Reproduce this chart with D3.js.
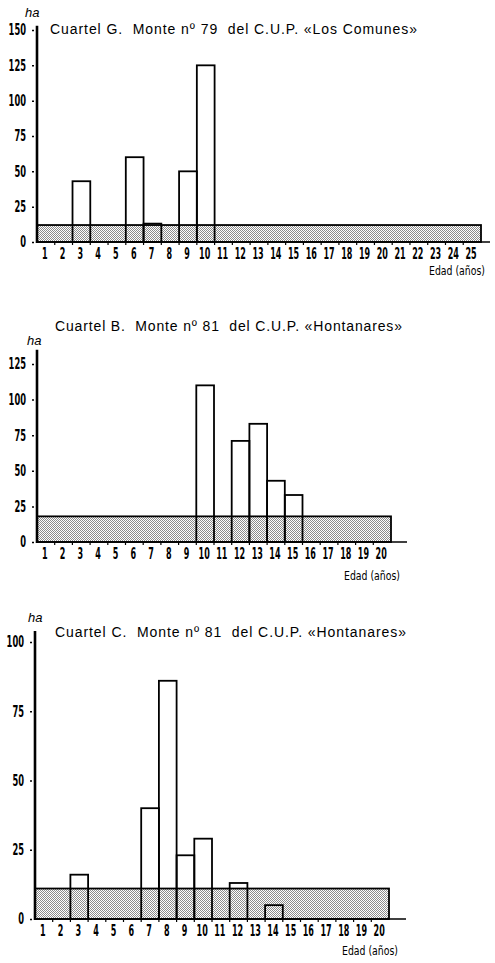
<!DOCTYPE html>
<html>
<head>
<meta charset="utf-8">
<script src="https://cdn.jsdelivr.net/npm/d3@7"></script>
<style>
  body { margin: 0; background: #fff; }
  svg { display: block; }
</style>
</head>
<body>
<div id="chart"></div>
<script>
// Datos: superficie (ha) por clase de edad en cada cuartel

// Cuartel G
var edadesG = [1,2,3,4,5,6,7,8,9,10,11,12,13,14,15,16,17,18,19,20,21,22,23,24,25];
var barrasEdadG = [3, 6, 7, 9, 10];
var barrasHaG = [43, 60, 13, 50, 125];
var normalG = 12;
var ticksG = [0, 25, 50, 75, 100, 125, 150];
var tituloG = "Cuartel G.  Monte nº 79  del C.U.P. «Los Comunes»";

// Cuartel B
var edadesB = [1,2,3,4,5,6,7,8,9,10,11,12,13,14,15,16,17,18,19,20];
var barrasEdadB = [10, 12, 13, 14, 15];
var barrasHaB = [110, 71, 83, 43, 33];
var normalB = 18;
var ticksB = [0, 25, 50, 75, 100, 125];
var tituloB = "Cuartel B.  Monte nº 81  del C.U.P. «Hontanares»";

// Cuartel C
var edadesC = [1,2,3,4,5,6,7,8,9,10,11,12,13,14,15,16,17,18,19,20];
var barrasEdadC = [3, 7, 8, 9, 10, 12, 14];
var barrasHaC = [16, 40, 86, 23, 29, 13, 5];
var normalC = 11;
var ticksC = [0, 25, 50, 75, 100];
var tituloC = "Cuartel C.  Monte nº 81  del C.U.P. «Hontanares»";

var W = 495, H = 963;

var svg = d3.select("#chart")
  .append("svg")
  .attr("width", W)
  .attr("height", H);

// Patron punteado para la superficie normal
var defs = svg.append("defs");
var pat = defs.append("pattern")
  .attr("id", "punteado")
  .attr("width", 2)
  .attr("height", 2)
  .attr("patternUnits", "userSpaceOnUse");
pat.append("rect").attr("width", 2).attr("height", 2).attr("fill", "#fff");
pat.append("rect").attr("x", 0).attr("y", 0).attr("width", 1).attr("height", 1).attr("fill", "#8c8c8c");
pat.append("rect").attr("x", 1).attr("y", 1).attr("width", 1).attr("height", 1).attr("fill", "#8c8c8c");

var fuenteNum = "'DejaVu Sans Condensed', 'Liberation Sans Narrow', 'Liberation Sans', sans-serif";
var fuenteTit = "'Liberation Sans', Arial, sans-serif";

// numeros estrechos (tipo Helvetica condensada)
function estrecho(sel, ancho) {
  sel.attr("font-family", fuenteNum)
    .attr("font-weight", "bold")
    .attr("font-size", 15)
    .attr("fill", "#000")
    .attr("textLength", function() { return this.textContent.length * ancho; })
    .attr("lengthAdjust", "spacingAndGlyphs");
}

function panel(cfg) {
  var g = svg.append("g");

  // Escalas
  var x = d3.scaleBand()
    .domain(cfg.edades)
    .range([cfg.left, cfg.right])
    .paddingInner(0)
    .paddingOuter(0);

  var y = d3.scaleLinear()
    .domain([0, cfg.ymax])
    .range([cfg.y0, cfg.ytop]);

  // Superficie normal (punteado)
  var primera = cfg.edades[0], ultima = cfg.edades[cfg.edades.length - 1];
  g.append("rect")
    .attr("x", x(primera))
    .attr("y", y(cfg.normal))
    .attr("width", x(ultima) + x.bandwidth() - x(primera))
    .attr("height", y(0) - y(cfg.normal))
    .attr("fill", "url(#punteado)")
    .attr("stroke", "#000")
    .attr("stroke-width", 1.8);

  // Barras reales
  var barras = cfg.barrasEdad.map(function(e, i) {
    return {edad: e, ha: cfg.barrasHa[i]};
  });
  g.selectAll(".barra")
    .data(barras)
    .enter()
    .append("rect")
    .attr("class", "barra")
    .attr("x", function(d) { return x(d.edad); })
    .attr("y", function(d) { return y(d.ha); })
    .attr("width", x.bandwidth())
    .attr("height", function(d) { return y(0) - y(d.ha); })
    .attr("fill", "none")
    .attr("stroke", "#000")
    .attr("stroke-width", 1.8);

  // Eje x
  var xAxis = d3.axisBottom(x).tickSize(0).tickPadding(6);
  var gx = g.append("g")
    .attr("transform", "translate(-1," + y(0) + ")")
    .call(xAxis);
  gx.select(".domain").remove();
  gx.selectAll("text").call(estrecho, 5.6);
  // marcas en los limites de las clases
  g.selectAll(".marcax")
    .data(cfg.edades.slice(1))
    .enter()
    .append("line")
    .attr("x1", function(d) { return x(d); })
    .attr("x2", function(d) { return x(d); })
    .attr("y1", y(0))
    .attr("y2", y(0) + 3)
    .attr("stroke", "#000")
    .attr("stroke-width", 1.2);
  g.append("line")
    .attr("x1", cfg.left)
    .attr("x2", cfg.axisEnd)
    .attr("y1", y(0))
    .attr("y2", y(0))
    .attr("stroke", "#000")
    .attr("stroke-width", 1.6);

  // Eje y
  var yAxis = d3.axisLeft(y).tickValues(cfg.ticks).tickSize(0).tickPadding(11);
  var gy = g.append("g")
    .attr("transform", "translate(" + cfg.left + ",0)")
    .call(yAxis);
  gy.select(".domain").remove();
  gy.selectAll("text").call(estrecho, 5.8);
  gy.selectAll(".tick")
    .append("line")
    .attr("x1", -5)
    .attr("x2", -3)
    .attr("stroke", "#000")
    .attr("stroke-width", 1.5);
  g.append("line")
    .attr("x1", cfg.left)
    .attr("x2", cfg.left)
    .attr("y1", y(0) + 1)
    .attr("y2", y(cfg.ejeTop))
    .attr("stroke", "#000")
    .attr("stroke-width", 2.6);

  // Textos
  g.append("text")
    .attr("x", cfg.haX)
    .attr("y", cfg.haY)
    .attr("font-family", fuenteTit)
    .attr("font-style", "italic")
    .attr("font-size", 13)
    .text("ha");

  g.append("text")
    .attr("x", cfg.titX)
    .attr("y", cfg.titY)
    .attr("font-family", fuenteTit)
    .attr("font-size", 14)
    .attr("textLength", cfg.titLen)
    .attr("lengthAdjust", "spacing")
    .style("white-space", "pre")
    .text(cfg.titulo);

  g.append("text")
    .attr("x", cfg.edadX)
    .attr("y", cfg.edadY)
    .attr("text-anchor", "end")
    .attr("font-family", fuenteNum)
    .attr("font-size", 12)
    .attr("textLength", 56)
    .attr("lengthAdjust", "spacingAndGlyphs")
    .text("Edad (años)");
}

panel({
  edades: edadesG, barrasEdad: barrasEdadG, barrasHa: barrasHaG, normal: normalG,
  ticks: ticksG, titulo: tituloG,
  left: 37, right: 481, axisEnd: 490,
  ymax: 150, y0: 242, ytop: 30, ejeTop: 153,
  haX: 25, haY: 17, titX: 50, titY: 34, titLen: 367,
  edadX: 485, edadY: 275
});

panel({
  edades: edadesB, barrasEdad: barrasEdadB, barrasHa: barrasHaB, normal: normalB,
  ticks: ticksB, titulo: tituloB,
  left: 37, right: 391, axisEnd: 407,
  ymax: 125, y0: 542, ytop: 364, ejeTop: 135,
  haX: 27, haY: 345, titX: 55, titY: 331, titLen: 347,
  edadX: 400, edadY: 580
});

panel({
  edades: edadesC, barrasEdad: barrasEdadC, barrasHa: barrasHaC, normal: normalC,
  ticks: ticksC, titulo: tituloC,
  left: 35, right: 389, axisEnd: 406,
  ymax: 100, y0: 919, ytop: 642, ejeTop: 104,
  haX: 28, haY: 622, titX: 55, titY: 637, titLen: 351,
  edadX: 398, edadY: 955
});
</script>
</body>
</html>
